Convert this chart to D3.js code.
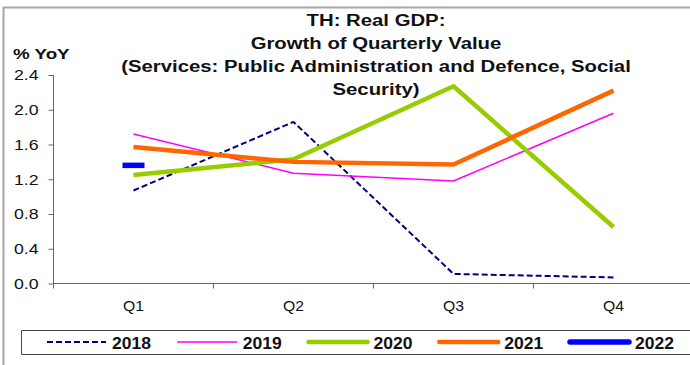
<!DOCTYPE html>
<html>
<head>
<meta charset="utf-8">
<script src="https://cdn.jsdelivr.net/npm/d3@7"></script>
<style>
  body { margin: 0; background: #fff; }
  svg { display: block; font-family: "Liberation Sans", Arial, sans-serif; }
  .axis path, .axis line { stroke: #666; }
  .axis text { font-family: "Liberation Sans", Arial, sans-serif; font-size: 15px; fill: #111; }
  .title { font-size: 16px; font-weight: bold; fill: #111; }
  .unit { font-size: 15px; font-weight: bold; fill: #111; }
  .legend text { font-size: 17px; font-weight: bold; fill: #111; }
</style>
</head>
<body>
<svg id="chart" width="690" height="365"></svg>
<script>
const quarters = ["Q1", "Q2", "Q3", "Q4"];
const yTicks = [0.0, 0.4, 0.8, 1.2, 1.6, 2.0, 2.4];
const titleLines = ["TH: Real GDP:", "Growth of Quarterly Value",
  "(Services: Public Administration and Defence, Social", "Security)"];

const v2018 = [1.07, 1.86, 0.11, 0.07];
const v2019 = [1.72, 1.27, 1.18, 1.96];
const v2020 = [1.25, 1.43, 2.27, 0.65];
const v2021 = [1.57, 1.40, 1.37, 2.22];
const v2022 = [1.36, null, null, null];

const series = [
  {name: "2018", values: v2018, color: "#000080", width: 2, dash: "6,3"},
  {name: "2019", values: v2019, color: "#ff00ff", width: 1.5, dash: null},
  {name: "2020", values: v2020, color: "#99cc00", width: 4.5, dash: null},
  {name: "2021", values: v2021, color: "#ff6600", width: 4.5, dash: null},
  {name: "2022", values: v2022, color: "#0000ff", width: 5.5, dash: null}
];

const padding = {left: 53.5, top: 75, right: -3.5, bottom: 81.5};
const width = 690, height = 365;
const innerWidth = width - padding.left - padding.right;
const innerHeight = height - padding.top - padding.bottom;

// widen text horizontally, the source picture is stretched
function stretch(sel, k) {
  sel.each(function() {
    const w = this.getComputedTextLength();
    d3.select(this)
      .attr("textLength", w * k)
      .attr("lengthAdjust", "spacingAndGlyphs");
  });
}

const svg = d3.select("#chart");

// outer frame (only top and left edges are inside the picture)
svg.append("path")
  .attr("d", `M3.5,${height}V7.5H${width}`)
  .attr("fill", "none").attr("stroke", "#a6a6a6").attr("stroke-width", 2);

const x = d3.scaleBand().domain(quarters).range([0, innerWidth]);
const y = d3.scaleLinear().domain([0, 2.4]).range([innerHeight, 0]);

const g = svg.append("g")
  .attr("transform", `translate(${padding.left},${padding.top})`);

// title
svg.selectAll(".title")
  .data(titleLines)
  .enter()
  .append("text")
  .attr("class", "title")
  .attr("x", 376)
  .attr("y", (d, i) => 25.5 + i * 23)
  .attr("text-anchor", "middle")
  .text(d => d)
  .call(stretch, 1.27);

svg.append("text")
  .attr("class", "unit")
  .attr("x", 13).attr("y", 59)
  .text("% YoY")
  .call(stretch, 1.25);

// axes
g.append("g")
  .attr("class", "axis")
  .call(d3.axisLeft(y).tickValues(yTicks).tickFormat(d3.format(".1f")).tickSize(5).tickPadding(10))
  .call(a => a.select(".domain").attr("d", `M0,${innerHeight + 5}V0`))
  .call(a => a.selectAll("text").call(stretch, 1.18));

const xAxis = d3.axisBottom(x).tickSize(0).tickPadding(17);
g.append("g")
  .attr("class", "axis")
  .attr("transform", `translate(0,${innerHeight})`)
  .call(xAxis)
  .call(a => a.select(".domain").attr("d", `M0,0H${width - padding.left}`))
  .call(a => a.selectAll("text").call(stretch, 1.05));

// tick marks between categories
g.append("g")
  .attr("class", "axis")
  .selectAll("line")
  .data(quarters.slice(1))
  .enter()
  .append("line")
  .attr("x1", d => x(d)).attr("x2", d => x(d))
  .attr("y1", innerHeight).attr("y2", innerHeight + 5);

// lines
const line = d3.line()
  .defined(d => d != null)
  .x((d, i) => x(quarters[i]) + x.bandwidth() / 2)
  .y(d => y(d));

series.forEach(s => {
  const count = s.values.filter(v => v != null).length;
  if (count > 1) {
    g.append("path")
      .datum(s.values)
      .attr("fill", "none")
      .attr("stroke", s.color)
      .attr("stroke-width", s.width)
      .attr("stroke-dasharray", s.dash)
      .attr("stroke-linejoin", "round")
      .attr("d", line);
  } else {
    // single point: shown as a short bar
    s.values.forEach((v, i) => {
      if (v == null) return;
      const cx = x(quarters[i]) + x.bandwidth() / 2;
      g.append("line")
        .attr("x1", cx - 11).attr("x2", cx + 11)
        .attr("y1", y(v)).attr("y2", y(v))
        .attr("stroke", s.color)
        .attr("stroke-width", s.width);
    });
  }
});

// legend (box runs off the right edge)
const legend = svg.append("g").attr("class", "legend");
legend.append("path")
  .attr("d", `M${width},330.5H21.5V354.5H${width}`)
  .attr("fill", "none").attr("stroke", "#444");

const legendX = d3.scalePoint().domain(series.map(s => s.name)).range([47, 570]);
const item = legend.selectAll(".item")
  .data(series)
  .enter()
  .append("g")
  .attr("class", "item")
  .attr("transform", d => `translate(${legendX(d.name)},342)`);

item.append("line")
  .attr("x1", 0).attr("x2", 59)
  .attr("stroke", d => d.color)
  .attr("stroke-width", d => d.width)
  .attr("stroke-linecap", d => d.dash ? "butt" : "round")
  .attr("stroke-dasharray", d => d.dash);

item.append("text")
  .attr("x", 65).attr("y", 6.5)
  .text(d => d.name)
  .call(stretch, 1.03);
</script>
</body>
</html>
